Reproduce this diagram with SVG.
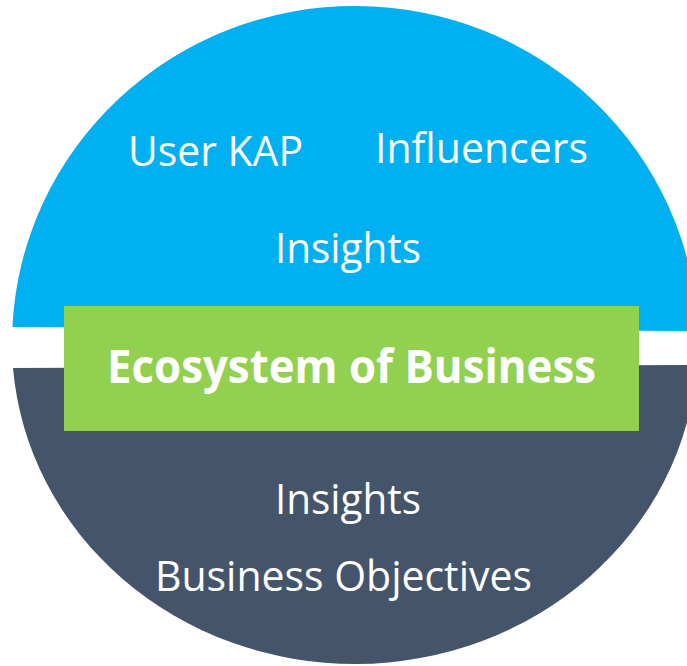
<svg xmlns="http://www.w3.org/2000/svg" width="687" height="666" viewBox="0 0 687 666">
  <style>
    .lbl { font-family: "Open Sans", "Noto Sans", "Liberation Sans", sans-serif; font-size: 42px; fill: #FFFFFF; }
    .title { font-family: "Open Sans", "Noto Sans", "Liberation Sans", sans-serif; font-size: 46px; font-weight: bold; fill: #FFFFFF; }
  </style>
  <rect x="0" y="0" width="687" height="666" fill="#FFFFFF"/>
  <g id="top-half">
    <path d="M12.4,327 A343,337 0 0 1 697.8,331 Z" fill="#00B0F0"/>
    <text class="lbl" x="128" y="166" textLength="175" lengthAdjust="spacingAndGlyphs">User KAP</text>
    <text class="lbl" x="375" y="163" textLength="213" lengthAdjust="spacingAndGlyphs">Influencers</text>
    <text class="lbl" x="275" y="263" textLength="146" lengthAdjust="spacingAndGlyphs">Insights</text>
  </g>
  <g id="bottom-half">
    <path d="M13,368 L697,365 A343,322 0 0 1 13,368 Z" fill="#44546A"/>
    <text class="lbl" x="275" y="514" textLength="146" lengthAdjust="spacingAndGlyphs">Insights</text>
    <text class="lbl" x="155" y="591" textLength="377" lengthAdjust="spacingAndGlyphs">Business Objectives</text>
  </g>
  <g id="center-box">
    <rect x="64" y="306" width="575" height="125" fill="#92D050"/>
    <text class="title" x="107" y="383" textLength="489" lengthAdjust="spacingAndGlyphs">Ecosystem of Business</text>
  </g>
</svg>
